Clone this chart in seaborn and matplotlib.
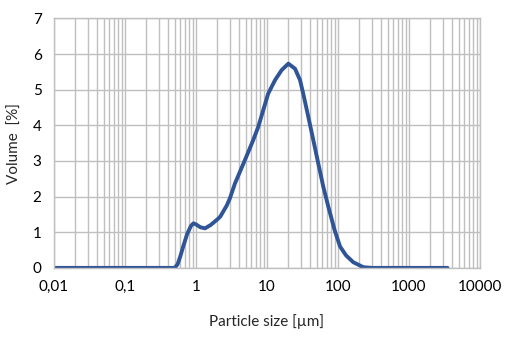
import matplotlib
matplotlib.use('Agg')
import matplotlib.pyplot as plt
import matplotlib.ticker as mticker
import pandas as pd
import seaborn as sns

# particle size distribution
size_um = [0.01, 0.1, 0.3, 0.5, 0.55, 0.6, 0.66, 0.75, 0.85, 0.92, 1.0, 1.15,
           1.34, 1.6, 2.0, 2.2, 2.71, 3.0, 3.54, 4.9, 6.41, 7.54, 8.87, 10.4,
           13.0, 16.1, 20, 24.8, 29.2, 32.4, 38.2, 44.9, 52.8, 62.1, 73.1, 90,
           107, 130, 164, 227, 300, 1000, 3500]
volume_pct = [0, 0, 0, 0, 0.1, 0.32, 0.6, 0.95, 1.18, 1.25, 1.22, 1.14,
              1.11, 1.2, 1.36, 1.44, 1.75, 1.95, 2.37, 3.03, 3.59, 3.96, 4.43, 4.89,
              5.27, 5.55, 5.73, 5.59, 5.27, 4.89, 4.24, 3.59, 2.93, 2.28, 1.72, 1.05,
              0.6, 0.35, 0.16, 0.02, 0, 0, 0]
x_ticks = [0.01, 0.1, 1, 10, 100, 1000, 10000]
x_tick_labels = ['0,01', '0,1', '1', '10', '100', '1000', '10000']

df = pd.DataFrame({'size': size_um, 'volume': volume_pct})

sns.set_style('white')
plt.rcParams['font.family'] = ['Lato', 'DejaVu Sans']

fig = plt.figure(figsize=(5.1, 3.47), dpi=100)
ax = fig.add_axes([0.106, 0.228, 0.835, 0.719])
sns.lineplot(x='size', y='volume', data=df, color='#2F5597', linewidth=2.8, ax=ax)
ax.lines[0].set_solid_joinstyle('round')
ax.lines[0].set_solid_capstyle('round')
ax.set_xscale('log')
ax.set_xlim(0.01, 10000)
ax.set_ylim(0, 7)
ax.set_xticks(x_ticks)
ax.set_xticklabels(x_tick_labels)
ax.xaxis.set_minor_locator(mticker.LogLocator(base=10, subs=range(2, 10), numticks=20))
ax.xaxis.set_minor_formatter(mticker.NullFormatter())
ax.set_yticks(range(0, 8))
ax.grid(True, which='major', axis='both', color='#BFBFBF', linewidth=1)
ax.grid(True, which='minor', axis='x', color='#BFBFBF', linewidth=1)
ax.set_axisbelow(True)
ax.tick_params(which='both', length=0, labelsize=11, colors='#000000', pad=9)
for s in ax.spines.values():
    s.set_color('#BFBFBF')
    s.set_linewidth(1)
ax.set_xlabel('Particle size [µm]', fontsize=11, labelpad=14)
ax.set_ylabel('Volume  [%]', fontsize=11, labelpad=8)
fig.savefig('out.png', dpi=100)
